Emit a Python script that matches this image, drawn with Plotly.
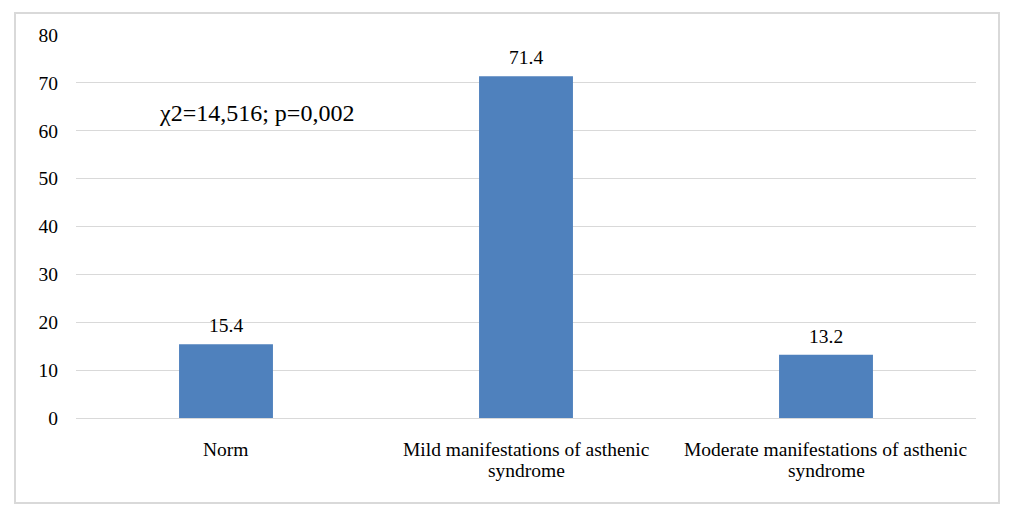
import plotly.graph_objects as go

categories = ["Norm", "Mild manifestations of asthenic<br>syndrome", "Moderate manifestations of asthenic<br>syndrome"]
values = [15.4, 71.4, 13.2]
value_labels = ["15.4", "71.4", "13.2"]
y_ticks = [0, 10, 20, 30, 40, 50, 60, 70, 80]
annotation_text = "χ2=14,516; p=0,002"

FONT = "Liberation Serif"
FS = 19.5

fig = go.Figure()
fig.add_trace(go.Bar(
    x=categories, y=values,
    marker=dict(color="#4F81BD", line=dict(width=0)),
    width=0.313,
))

annotations = [dict(text=annotation_text, xref="paper", yref="y",
                    x=(157 - 76) / 900, y=63.7, xanchor="left", yanchor="middle",
                    showarrow=False, font=dict(family=FONT, size=24, color="black"))]
for c, v, t in zip(categories, values, value_labels):
    annotations.append(dict(text=t, x=c, y=v, xref="x", yref="y", xanchor="center",
                            yanchor="bottom", yshift=6, showarrow=False,
                            font=dict(family=FONT, size=FS, color="black")))
# category labels, one annotation per line for tighter line spacing
for c in categories:
    for i, line in enumerate(c.split("<br>")):
        annotations.append(dict(text=line, x=c, xref="x", yref="paper",
                                y=(418 - (449 + 22 * i)) / 383, xanchor="center",
                                yanchor="middle", showarrow=False,
                                font=dict(family=FONT, size=FS, color="black")))

fig.update_layout(
    width=1006, height=516,
    margin=dict(l=68, r=38, t=27, b=106),
    paper_bgcolor="white", plot_bgcolor="white",
    font=dict(family=FONT, size=FS, color="black"),
    showlegend=False,
    xaxis=dict(showgrid=False, showline=False, zeroline=False, ticks="",
               showticklabels=False),
    yaxis=dict(range=[0, 80], tickvals=y_ticks, showgrid=True, gridcolor="#D9D9D9",
               gridwidth=1, zeroline=True, zerolinecolor="#D9D9D9", zerolinewidth=1,
               showline=False, ticks="", ticklabelstandoff=17,
               tickfont=dict(family=FONT, size=FS, color="black")),
    shapes=[dict(type="rect", xref="paper", yref="paper",
                 x0=(15 - 76) / 900, x1=(999 - 76) / 900,
                 y0=(418 - 503) / 383, y1=(418 - 13) / 383,
                 line=dict(color="#D9D9D9", width=2), fillcolor="rgba(0,0,0,0)",
                 layer="below")],
    annotations=annotations,
)

fig.write_html("out.html")
